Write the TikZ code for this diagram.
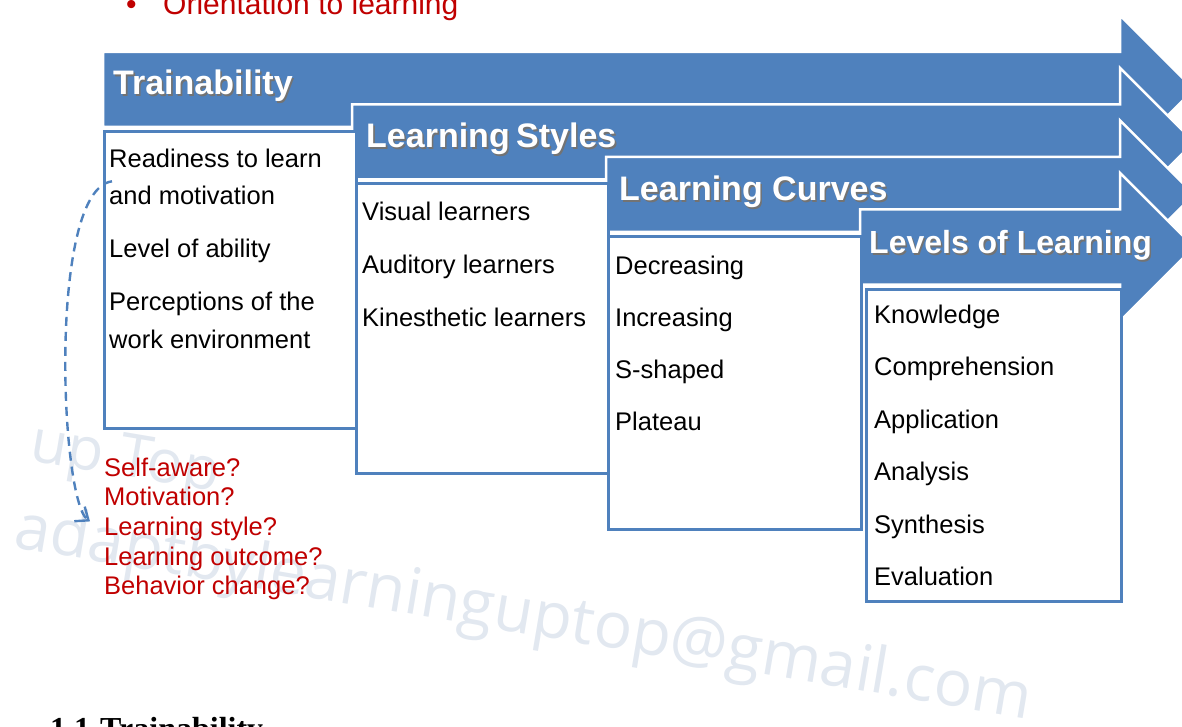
\documentclass[tikz,border=0pt]{standalone}
\usepackage{fontspec}
\setmainfont{Liberation Sans}
\newfontfamily\serifhead{Liberation Serif}
\newfontfamily\markfont{Open Sans}
\usetikzlibrary{arrows.meta}

\definecolor{barblue}{RGB}{79,129,189}
\definecolor{qred}{RGB}{192,0,0}
\definecolor{markgray}{RGB}{226,232,240}

\newcommand{\shadowed}[1]{\makebox[0pt][l]{\hspace{1.6pt}\raisebox{-1.6pt}{\textcolor{black!55}{#1}}}#1}

\tikzset{
  banner/.style={fill=barblue, draw=white, line width=2.5pt, line join=miter},
  title/.style={anchor=base west, inner sep=0pt, text=white, font=\fontsize{34}{40}\selectfont\bfseries},
  listbox/.style={rectangle, draw=barblue, fill=white, line width=3pt, anchor=north west, inner sep=0pt},
  item/.style={anchor=base west, inner sep=0pt, font=\fontsize{25.5}{30}\selectfont},
  question/.style={anchor=base west, inner sep=0pt, text=qred, font=\fontsize{25.5}{30}\selectfont},
  watermark/.style={anchor=base west, inner sep=0pt, text=markgray, rotate=-9.6, font=\markfont\fontsize{64}{70}\selectfont},
  dasharrow/.style={draw=barblue, line width=2.4pt, dash pattern=on 9pt off 6pt, -{Straight Barb[length=11pt,width=18pt]}}
}

\begin{document}
\begin{tikzpicture}[x=1pt,y=-1pt]
\useasboundingbox (0,0) rectangle (1182,727);
\clip (0,0) rectangle (1182,727);

% watermark
\node[watermark, font=\markfont\fontsize{60}{66}\selectfont] (w1) at (28,460) {up Top};
\node[watermark] (w2) at (12,547) {adaptbylearninguptop@gmail.com};

% cut-off lines of the page
\node[anchor=base west, inner sep=0pt, text=qred, font=\fontsize{30}{34}\selectfont] (o1) at (126,15) {\makebox[37pt][l]{\textbullet}Orientation to learning};
\node[anchor=base west, inner sep=0pt, font=\serifhead\fontsize{32}{38}\selectfont\bfseries] (h1) at (50,739) {1.1\hspace{10pt}Trainability};

% banners
\filldraw[banner] (103,52) -- (1120,52) -- (1120,15.5) -- (1194,89.5) -- (1120,163.5) -- (1120,127) -- (103,127) -- cycle;
\filldraw[banner] (352,104.5) -- (1120,104.5) -- (1120,68) -- (1194,142) -- (1120,216) -- (1120,179.5) -- (352,179.5) -- cycle;
\filldraw[banner] (606,157) -- (1120,157) -- (1120,120.5) -- (1194,194.5) -- (1120,268.5) -- (1120,232) -- (606,232) -- cycle;
\filldraw[banner] (860,209.5) -- (1120,209.5) -- (1120,173) -- (1194,247) -- (1120,321) -- (1120,284.5) -- (860,284.5) -- cycle;

\node[title] (t1) at (113,95) {\shadowed{Trainability}};
\node[title] (t2) at (366,148) {\shadowed{Learning\hspace{-3pt} Styles}};
\node[title] (t3) at (619,201) {\shadowed{Learning Curves}};
\node[title, font=\fontsize{32}{38}\selectfont\bfseries] (t4) at (869,254) {\shadowed{Levels of Learning}};

% boxes
\node[listbox, minimum width=252pt, minimum height=297pt] (b1) at (103,130) {};
\node[listbox, minimum width=252pt, minimum height=289.5pt] (b2) at (355,182.5) {};
\node[listbox, minimum width=253pt, minimum height=293pt] (b3) at (607,235) {};
\node[listbox, minimum width=255pt, minimum height=312.5pt] (b4) at (865,287.5) {};

\node[item] (r1) at (109,168) {Readiness to learn};
\node[item] (r2) at (109,205) {and motivation};
\node[item] (r3) at (109,258) {Level of ability};
\node[item] (r4) at (109,310) {Perceptions of the};
\node[item] (r5) at (109,348) {work environment};

\node[item] (s1) at (362,221) {Visual learners};
\node[item] (s2) at (362,273) {Auditory learners};
\node[item] (s3) at (362,326) {Kinesthetic learners};

\node[item] (c1) at (615,274) {Decreasing};
\node[item] (c2) at (615,326) {Increasing};
\node[item] (c3) at (615,378) {S-shaped};
\node[item] (c4) at (615,430) {Plateau};

\node[item] (l1) at (874,323) {Knowledge};
\node[item] (l2) at (874,375) {Comprehension};
\node[item] (l3) at (874,428) {Application};
\node[item] (l4) at (874,480) {Analysis};
\node[item] (l5) at (874,533) {Synthesis};
\node[item] (l6) at (874,585) {Evaluation};

% questions
\node[question] (q1) at (104,476) {Self-aware?};
\node[question] (q2) at (104,505) {Motivation?};
\node[question] (q3) at (104,535) {Learning style?};
\node[question] (q4) at (104,565) {Learning outcome?};
\node[question] (q5) at (104,594) {Behavior change?};

\draw[dasharrow] ([xshift=3pt,yshift=5pt]r2.north west) .. controls (48,190) and (60,500) .. ([xshift=-14pt,yshift=7pt]q3.west);
\end{tikzpicture}
\end{document}
